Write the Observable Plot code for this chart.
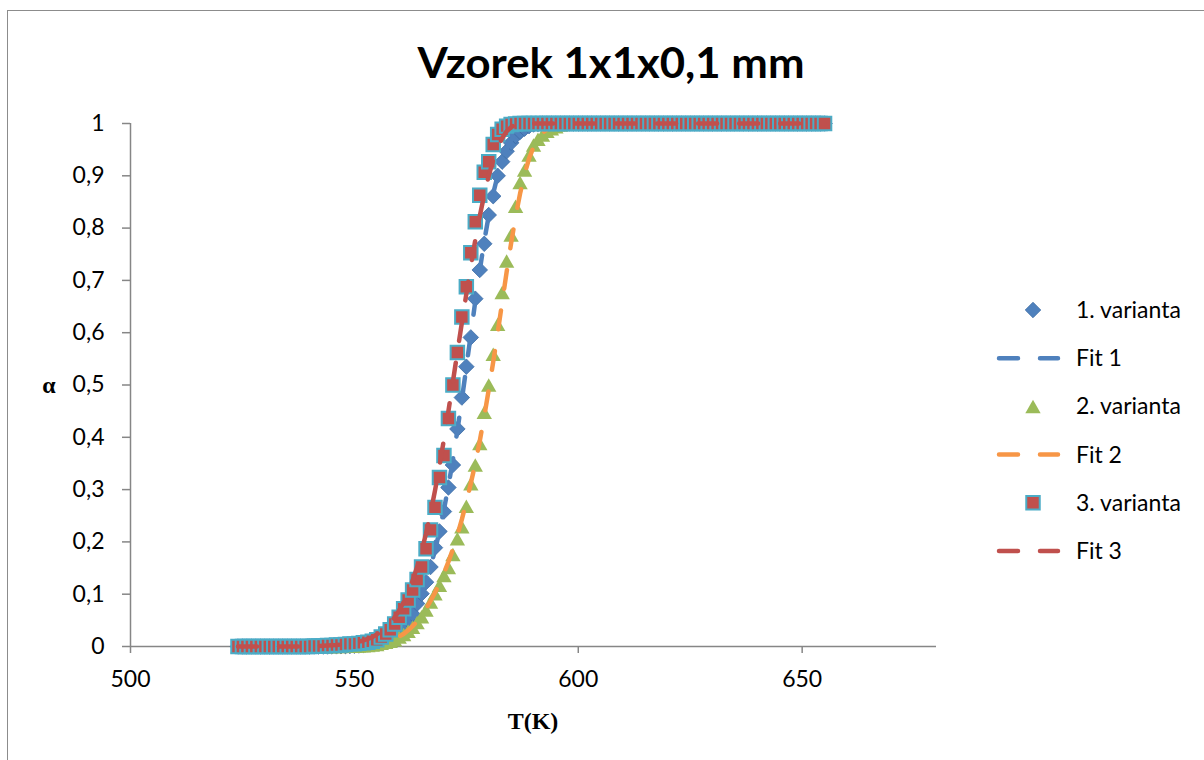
<!DOCTYPE html>
<html>
<head>
<meta charset="utf-8">
<script src="https://cdn.jsdelivr.net/npm/d3@7"></script>
<script src="https://cdn.jsdelivr.net/npm/@observablehq/plot@0.6"></script>
<style>
html,body{margin:0;padding:0;background:#fff;overflow:hidden}
#wrap{position:relative;width:1204px;height:760px;overflow:hidden;background:#fff}
#frame{position:absolute;left:7px;top:10px;width:1300px;height:900px;border:1.5px solid #8c8c8c;box-sizing:border-box}
#chart{position:absolute;left:0;top:0}
#overlay{position:absolute;left:0;top:0;pointer-events:none}
#chart svg{overflow:visible}
g[aria-label="x-axis tick"], g[aria-label="y-axis tick"]{stroke:#868686;stroke-width:1.5}
g[aria-label="x-axis"] .tick line, g[aria-label="y-axis"] .tick line{stroke:#868686;stroke-width:1.5}
</style>
</head>
<body>
<div id="wrap">
  <div id="frame"></div>
  <div id="chart"></div>
  <svg id="overlay" width="1204" height="760"></svg>
</div>
<script>
// ---- data ----
const T = [
524,525,526,527,528,529,530,531,532,533,
534,535,536,537,538,539,540,541,542,543,
544,545,546,547,548,549,550,551,552,553,
554,555,556,557,558,559,560,561,562,563,
564,565,566,567,568,569,570,571,572,573,
574,575,576,577,578,579,580,581,582,583,
584,585,586,587,588,589,590,591,592,593,
594,595,596,597,598,599,600,601,602,603,
604,605,606,607,608,609,610,611,612,613,
614,615,616,617,618,619,620,621,622,623,
624,625,626,627,628,629,630,631,632,633,
634,635,636,637,638,639,640,641,642,643,
644,645,646,647,648,649,650,651,652,653,
654,655];

// 1. varianta (524..655)
const alpha1 = [
0,0,0,0,0,0,0,0, 0,0,0,0,0,0,0,0, 0,0,0,0,0,
0.0002,0.0003,0.0005,0.0007,0.001,0.0015,0.002,0.003,0.004,0.006,
0.008,0.010,0.014,0.018,0.024,0.031,0.040,0.050,0.062,0.082,
0.101,0.123,0.152,0.189,0.220,0.258,0.304,0.347,0.416,0.476,
0.535,0.591,0.665,0.720,0.770,0.825,0.861,0.900,0.927,0.947,
0.963,0.976,0.984,0.990,0.995,0.998,0.999,
1,1,1,1,1,1,1,1, 1,1,1,1,1,1,1,1, 1,1,1,1,1,1,1,1, 1,1,1,1,1,1,1,1,
1,1,1,1,1,1,1,1, 1,1,1,1,1,1,1,1, 1,1,1,1,1,1,1,1, 1,1,1,1,1,1,1,1];

const fit1 = [
0,0,0,0,0,0,0,0, 0,0,0,0,0,0,0,0, 0,0,0,0,0,
0.0003,0.0004,0.0006,0.0009,0.0013,0.0018,0.0025,0.0035,0.005,0.0065,
0.0085,0.011,0.0145,0.019,0.025,0.032,0.041,0.052,0.066,0.083,
0.102,0.125,0.152,0.184,0.220,0.262,0.307,0.357,0.413,0.472,
0.534,0.597,0.660,0.719,0.775,0.824,0.866,0.901,0.930,0.952,
0.968,0.980,0.988,0.993,0.996,0.998,0.999,
1,1,1,1,1,1,1,1, 1,1,1,1,1,1,1,1, 1,1,1,1,1,1,1,1, 1,1,1,1,1,1,1,1,
1,1,1,1,1,1,1,1, 1,1,1,1,1,1,1,1, 1,1,1,1,1,1,1,1, 1,1,1,1,1,1,1,1];

// 2. varianta
const alpha2 = [
0,0,0,0,0,0,0,0, 0,0,0,0,0,0,0,0, 0,0,0,0,0,0,0,
0.0002,0.0003,0.0005,0.0007,0.001,0.0015,0.002,0.003,0.004,0.006,
0.008,0.010,0.013,0.018,0.023,0.029,0.037,0.046,0.057,0.070,
0.085,0.101,0.117,0.136,0.151,0.176,0.206,0.229,0.268,0.311,
0.347,0.388,0.448,0.500,0.559,0.616,0.677,0.737,0.787,0.842,
0.887,0.911,0.940,0.959,0.970,0.978,0.985,0.990,0.994,0.997,
0.999,
1,1,1,1,1,1,1,1, 1,1,1,1,1,1,1,1, 1,1,1,1,1,1,1,1, 1,1,1,1,1,1,1,1,
1,1,1,1,1,1,1,1, 1,1,1,1,1,1,1,1, 1,1,1,1,1,1,1,1, 1,1];

const fit2 = [
0,0,0,0,0,0,0,0, 0,0,0,0,0,0,0,0, 0,0,0,0,0,0,0,
0.0003,0.0004,0.0006,0.0009,0.0013,0.0018,0.0025,0.0034,0.0046,0.0062,
0.0083,0.011,0.0145,0.019,0.024,0.031,0.039,0.048,0.059,0.072,
0.087,0.103,0.121,0.140,0.162,0.186,0.213,0.243,0.276,0.312,
0.350,0.393,0.440,0.491,0.544,0.600,0.658,0.716,0.771,0.822,
0.866,0.903,0.933,0.955,0.971,0.982,0.989,0.994,0.997,0.998,
0.999,
1,1,1,1,1,1,1,1, 1,1,1,1,1,1,1,1, 1,1,1,1,1,1,1,1, 1,1,1,1,1,1,1,1,
1,1,1,1,1,1,1,1, 1,1,1,1,1,1,1,1, 1,1,1,1,1,1,1,1, 1,1];

// 3. varianta
const alpha3 = [
0,0,0,0,0,0,0,0, 0,0,0,0,0,0,0,0, 0,
0.001,0.001,0.001,0.002,0.002,0.003,0.003,0.004,0.005,0.005,
0.006,0.007,0.008,0.010,0.013,0.018,0.024,0.032,0.043,0.056,
0.072,0.089,0.108,0.128,0.152,0.187,0.223,0.266,0.323,0.365,
0.436,0.500,0.562,0.630,0.688,0.753,0.812,0.863,0.907,0.927,
0.960,0.979,0.989,0.995,0.998,0.999,
1,1,1,1,1,1,1,1, 1,1,1,1,1,1,1,1, 1,1,1,1,1,1,1,1, 1,1,1,1,1,1,1,1,
1,1,1,1,1,1,1,1, 1,1,1,1,1,1,1,1, 1,1,1,1,1,1,1,1, 1,1,1,1,1,1,1,1, 1,1,1,1,1];

const fit3 = [
0,0,0,0,0,0,0,0, 0,0,0,0,0,0,0,0, 0,
0.0008,0.001,0.0013,0.0017,0.0022,0.0028,0.0036,0.0046,0.0058,0.0073,
0.0092,0.0115,0.0145,0.018,0.023,0.029,0.036,0.045,0.056,0.069,
0.085,0.104,0.126,0.152,0.182,0.216,0.255,0.298,0.345,0.396,
0.450,0.506,0.563,0.619,0.674,0.727,0.777,0.823,0.864,0.900,
0.930,0.954,0.972,0.985,0.993,0.998,
1,1,1,1,1,1,1,1, 1,1,1,1,1,1,1,1, 1,1,1,1,1,1,1,1, 1,1,1,1,1,1,1,1,
1,1,1,1,1,1,1,1, 1,1,1,1,1,1,1,1, 1,1,1,1,1,1,1,1, 1,1,1,1,1,1,1,1, 1,1,1,1,1];

const xTicks = [500, 550, 600, 650];
const yTicks = [0, 0.1, 0.2, 0.3, 0.4, 0.5, 0.6, 0.7, 0.8, 0.9, 1];
const xDomain = [500, 680];
const seriesNames = ["1. varianta", "Fit 1", "2. varianta", "Fit 2", "3. varianta", "Fit 3"];
const titleText = "Vzorek 1x1x0,1 mm";
const xLabel = "T(K)";
const yLabel = "α";

[alpha1, fit1, alpha2, fit2, alpha3, fit3].forEach((a, i) => {
  if (a.length !== T.length) throw new Error("length mismatch in array " + i + ": " + a.length);
});

// ---- styles ----
const C = {blue: "#4F81BD", blueEdge: "#3E6DA6", green: "#9BBB59", orange: "#F79646", red: "#C0504D", aqua: "#4BACC6"};
const dash = "19,22";
const lineW = 4.5;
const rDiamond = 7.0, rTriangle = 6.1, rSquare = 7.6;

// Excel-style triangle: centred on its bounding box (not its centroid)
const boxTriangle = {
  draw(context, size) {
    const w = Math.sqrt(size) * 1.42;
    const h = w * 0.88;
    context.moveTo(0, -h / 2);
    context.lineTo(w / 2, h / 2);
    context.lineTo(-w / 2, h / 2);
    context.closePath();
  }
};

const chart = Plot.plot({
  width: 1204,
  height: 760,
  marginLeft: 130,
  marginRight: 268,
  marginTop: 123,
  marginBottom: 114,
  style: {fontFamily: "Lato, sans-serif", fontSize: "23px", color: "#000", background: "transparent", overflow: "visible"},
  x: {domain: xDomain, ticks: xTicks, tickSize: 7, tickPadding: 17, tickFormat: d => String(d), label: null},
  y: {domain: [0, 1], ticks: yTicks, tickSize: 8, tickPadding: 18, tickFormat: d => String(d).replace(".", ","), label: null},
  marks: [
    Plot.ruleY([yTicks[0]], {stroke: "#868686", strokeWidth: 1.5}),
    Plot.ruleX([xDomain[0]], {stroke: "#868686", strokeWidth: 1.5}),
    Plot.dot(T, {x: T, y: alpha1, symbol: "diamond2", r: rDiamond, fill: C.blue, stroke: C.blueEdge, strokeWidth: 0.8}),
    Plot.line(T, {x: T, y: fit1, stroke: C.blue, strokeWidth: lineW, strokeDasharray: dash, strokeLinecap: "round"}),
    Plot.dot(T, {x: T, y: alpha2, symbol: boxTriangle, r: rTriangle, fill: C.green, stroke: "none"}),
    Plot.line(T, {x: T, y: fit2, stroke: C.orange, strokeWidth: lineW, strokeDasharray: dash, strokeLinecap: "round"}),
    Plot.dot(T, {x: T, y: alpha3, symbol: "square", r: rSquare, fill: C.red, stroke: C.aqua, strokeWidth: 2}),
    Plot.line(T, {x: T, y: fit3, stroke: C.red, strokeWidth: lineW, strokeDasharray: dash, strokeLinecap: "round"})
  ]
});
document.getElementById("chart").appendChild(chart);

// ---- overlay: title, axis labels, legend ----
const ov = d3.select("#overlay");
ov.append("text").attr("x", 611).attr("y", 78).attr("text-anchor", "middle")
  .attr("font-family", "Lato, sans-serif").attr("font-weight", "bold").attr("font-size", 42)
  .attr("textLength", 387).attr("lengthAdjust", "spacingAndGlyphs").text(titleText);
ov.append("text").attr("x", 533).attr("y", 729).attr("text-anchor", "middle")
  .attr("font-family", "'Liberation Serif', serif").attr("font-weight", "bold").attr("font-size", 24).text(xLabel);
ov.append("text").attr("x", 49).attr("y", 393).attr("text-anchor", "middle")
  .attr("font-family", "'Liberation Serif', serif").attr("font-weight", "bold").attr("font-size", 24).text(yLabel);

const legendTop = 310, legendStep = 48.2;
const legendItems = [
  {kind: "dot", symbol: d3.symbolDiamond2, size: rDiamond * rDiamond * Math.PI, fill: C.blue, stroke: C.blueEdge, sw: 0.8},
  {kind: "line", stroke: C.blue},
  {kind: "dot", symbol: boxTriangle, size: rTriangle * rTriangle * Math.PI, fill: C.green, stroke: "none", sw: 0},
  {kind: "line", stroke: C.orange},
  {kind: "dot", symbol: d3.symbolSquare, size: rSquare * rSquare * Math.PI, fill: C.red, stroke: C.aqua, sw: 2},
  {kind: "line", stroke: C.red}
];
legendItems.forEach((it, i) => {
  const y = legendTop + i * legendStep;
  const g = ov.append("g");
  if (it.kind === "dot") {
    g.append("path").attr("transform", `translate(1033,${y})`)
      .attr("d", d3.symbol(it.symbol, it.size)()).attr("fill", it.fill).attr("stroke", it.stroke).attr("stroke-width", it.sw);
  } else {
    g.append("line").attr("x1", 999).attr("x2", 1058).attr("y1", y).attr("y2", y)
      .attr("stroke", it.stroke).attr("stroke-width", lineW).attr("stroke-linecap", "round").attr("stroke-dasharray", dash);
  }
  g.append("text").attr("x", 1076).attr("y", y).attr("dy", "0.35em")
    .attr("font-family", "Lato, sans-serif").attr("font-size", 23).attr("fill", "#000").text(seriesNames[i]);
});
</script>
</body>
</html>
